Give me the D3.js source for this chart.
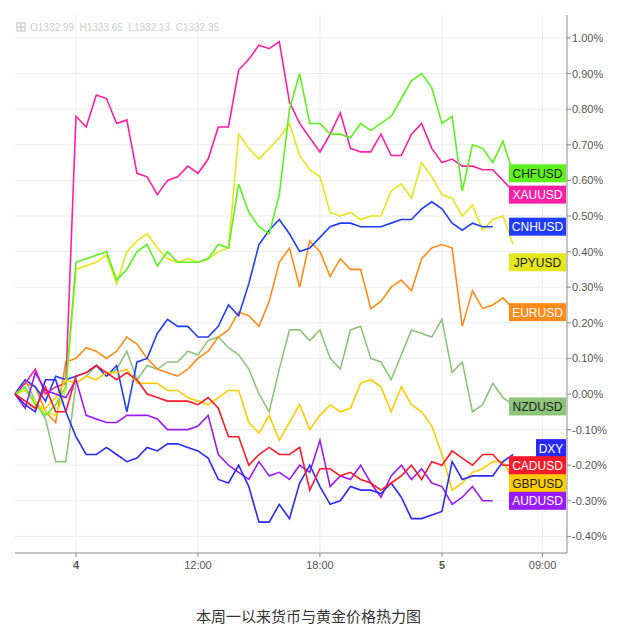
<!DOCTYPE html>
<html><head><meta charset="utf-8">
<script src="https://cdn.jsdelivr.net/npm/d3@7"></script>
<style>body{margin:0;background:#fff;font-family:Arial,"Liberation Sans",sans-serif}</style>
</head><body><div id="plot"></div>
<script>
// percentage change per half-hour step since start
const xau = [0,.03,.07,0,.02,.03,.78,.75,.84,.83,.76,.77,.62,.61,.56,.60,.61,.64,.62,.66,.75,.75,.91,.94,.98,.97,.99,.82,.76,.72,.68,.73,.79,.69,.68,.68,.73,.67,.67,.73,.76,.69,.65,.66,.64,.64,.63,.63,.60,.57];
const chf = [0,.02,-.03,-.06,-.03,.02,.37,.38,.39,.40,.32,.35,.40,.42,.36,.40,.37,.37,.37,.38,.42,.41,.59,.51,.47,.45,.56,.80,.90,.76,.76,.73,.73,.72,.76,.74,.76,.78,.83,.88,.90,.86,.76,.78,.57,.70,.69,.65,.71,.62];
const jpy = [0,.01,-.02,-.05,-.06,.01,.35,.36,.37,.39,.31,.40,.43,.45,.41,.38,.37,.38,.37,.38,.40,.41,.73,.69,.66,.69,.72,.76,.67,.63,.61,.51,.50,.51,.49,.50,.50,.57,.59,.55,.65,.61,.56,.55,.50,.53,.46,.49,.50,.42];
const cnh = [0,.04,.02,-.02,.05,.04,.05,.06,.08,.05,.08,-.05,.09,.10,.17,.21,.19,.19,.16,.16,.19,.25,.22,.31,.42,.46,.49,.45,.40,.41,.44,.47,.48,.48,.47,.47,.47,.48,.49,.49,.52,.54,.52,.48,.46,.48,.47,.47];
const eur = [0,.03,.02,-.05,-.08,.09,.10,.13,.12,.10,.12,.16,.14,.10,.07,.06,.05,.07,.10,.12,.16,.18,.23,.22,.19,.26,.37,.41,.30,.43,.40,.33,.38,.35,.35,.24,.26,.30,.32,.29,.38,.41,.42,.41,.19,.29,.24,.25,.27,.24];
const nzd = [0,.04,-.02,-.07,-.19,-.19,.03,.05,.08,.05,.07,.12,.04,.08,.07,.09,.09,.12,.11,.15,.16,.13,.11,.07,0,-.05,.07,.18,.18,.15,.18,.10,.07,.18,.19,.10,.09,.04,.11,.18,.17,.16,.21,.06,.09,-.05,-.03,.03,-.01,-.03];
const dxy = [0,-.03,-.05,.04,.04,-.05,-.12,-.17,-.17,-.15,-.17,-.19,-.18,-.15,-.16,-.14,-.14,-.15,-.16,-.18,-.24,-.25,-.20,-.26,-.36,-.36,-.31,-.35,-.25,-.20,-.26,-.31,-.30,-.26,-.27,-.27,-.28,-.25,-.29,-.35,-.35,-.34,-.33,-.19,-.24,-.23,-.23,-.23,-.19,-.17];
const cad = [0,-.02,-.04,.02,-.05,-.05,.05,.06,.08,.06,.04,.06,.04,0,-.01,-.02,-.02,-.02,-.03,-.01,-.04,-.12,-.12,-.20,-.17,-.15,-.17,-.17,-.15,-.27,-.21,-.21,-.23,-.22,-.24,-.25,-.27,-.25,-.23,-.20,-.24,-.19,-.20,-.16,-.18,-.20,-.17,-.17,-.20,-.20];
const gbp = [0,-.02,-.04,-.04,-.01,.04,.03,.05,.04,.06,.06,.07,.03,.03,.03,.01,.01,-.01,-.02,-.03,-.01,.01,.01,-.08,-.11,-.06,-.13,-.08,-.03,-.10,-.06,-.03,-.05,-.04,.03,.04,.02,-.05,.02,-.03,-.05,-.09,-.17,-.27,-.25,-.22,-.21,-.19,-.19,-.24];
const aud = [0,-.04,.06,.01,0,-.01,.04,-.06,-.07,-.08,-.08,-.06,-.06,-.06,-.07,-.10,-.10,-.10,-.09,-.06,-.17,-.20,-.22,-.24,-.19,-.23,-.22,-.24,-.20,-.22,-.13,-.26,-.23,-.24,-.20,-.25,-.29,-.23,-.20,-.24,-.21,-.25,-.26,-.31,-.29,-.26,-.30,-.30];

const seriesNames = ["NZDUSD","EURUSD","JPYUSD","CNHUSD","XAUUSD","CHFUSD","GBPUSD","AUDUSD","DXY","CADUSD"];
const seriesValues = [nzd, eur, jpy, cnh, xau, chf, gbp, aud, dxy, cad];
const seriesColors = ["#8cc47a","#ff8c1a","#e4e61c","#1f3dff","#ff1fa6","#5cf21e","#ffcc00","#9a1aff","#2a2aff","#ff1a2a"];
const labelText = ["#222","#fff","#222","#fff","#fff","#222","#222","#fff","#fff","#fff"];
const labelValues = [-0.035, 0.23, 0.37, 0.47, 0.56, 0.62, -0.25, -0.30, -0.152, -0.20];

const yTicks = [1.0,0.9,0.8,0.7,0.6,0.5,0.4,0.3,0.2,0.1,0,-0.1,-0.2,-0.3,-0.4];
const xTickPos = [6, 18, 30, 42, 51.9];
const xTickLabels = ["4","12:00","18:00","5","09:00"];
const boldTicks = ["4","5"];

const W = 617, H = 639;
const mLeft = 15, mRight = 567, mTop = 15, mBottom = 553;
const x = d3.scaleLinear().domain([0, 54.3]).range([mLeft, mRight]);
const y = d3.scaleLinear().domain([0, 1]).range([394, 38]);

const svg = d3.select("#plot").append("svg").attr("width", W).attr("height", H);

// grid
svg.selectAll(".hg").data(yTicks).enter().append("line")
  .attr("x1", mLeft).attr("x2", mRight).attr("y1", d => y(d)).attr("y2", d => y(d))
  .attr("stroke", "#ececec");
svg.selectAll(".vg").data(xTickPos).enter().append("line")
  .attr("x1", d => x(d)).attr("x2", d => x(d)).attr("y1", mTop).attr("y2", mBottom)
  .attr("stroke", "#ececec");

// axes
svg.append("line").attr("x1", mRight).attr("x2", mRight).attr("y1", mTop).attr("y2", mBottom).attr("stroke", "#888");
svg.append("line").attr("x1", mLeft).attr("x2", mRight).attr("y1", mBottom).attr("y2", mBottom).attr("stroke", "#888");
svg.selectAll(".yt").data(yTicks).enter().append("line")
  .attr("x1", mRight).attr("x2", mRight + 4).attr("y1", d => y(d)).attr("y2", d => y(d)).attr("stroke", "#888");
svg.selectAll(".yl").data(yTicks).enter().append("text")
  .attr("x", mRight + 5).attr("y", d => y(d) + 4)
  .attr("font-size", 11).attr("fill", "#555")
  .text(d => (d < 0 ? "-" : "") + Math.abs(d).toFixed(2) + "%");
svg.selectAll(".xt").data(xTickPos).enter().append("line")
  .attr("x1", d => x(d)).attr("x2", d => x(d)).attr("y1", mBottom).attr("y2", mBottom + 4).attr("stroke", "#888");
svg.selectAll(".xl").data(xTickPos).enter().append("text")
  .attr("x", d => x(d)).attr("y", mBottom + 16).attr("text-anchor", "middle")
  .attr("font-size", 11).attr("fill", "#555")
  .attr("font-weight", (d, i) => boldTicks.includes(xTickLabels[i]) ? 700 : 400)
  .text((d, i) => xTickLabels[i]);

// lines
const line = d3.line().x((d, i) => x(i)).y(d => y(d));
seriesValues.forEach((vals, k) => {
  svg.append("path").datum(vals).attr("d", line)
    .attr("fill", "none").attr("stroke", seriesColors[k]).attr("stroke-width", 1.6);
});

// right labels
seriesNames.forEach((name, k) => {
  const cy = y(labelValues[k]);
  const g = svg.append("g");
  const bw = name === "DXY" ? 30 : 57;
  g.append("rect").attr("x", mRight - 1 - bw).attr("y", cy - 9).attr("width", bw).attr("height", 18)
    .attr("fill", seriesColors[k]);
  g.append("text").attr("x", mRight - 1 - bw / 2).attr("y", cy + 4.5).attr("text-anchor", "middle")
    .attr("font-size", 12).attr("fill", labelText[k]).text(name);
});

// header OHLC
svg.append("rect").attr("x", 17).attr("y", 23).attr("width", 8).attr("height", 8)
  .attr("fill", "none").attr("stroke", "#bbb");
svg.append("path").attr("d", "M21,24V30M18,27H24").attr("stroke", "#bbb");
svg.append("text").attr("x", 30).attr("y", 31).attr("font-size", 10).attr("fill", "#ccc")
  .attr("xml:space", "preserve").text("O1332.99  H1333.65  L1332.13  C1332.35");

// caption
svg.append("text").attr("x", W / 2).attr("y", 622).attr("text-anchor", "middle")
  .attr("font-size", 15).attr("fill", "#333")
  .attr("font-family", "'Noto Sans CJK SC', sans-serif").text("本周一以来货币与黄金价格热力图");
</script></body></html>
